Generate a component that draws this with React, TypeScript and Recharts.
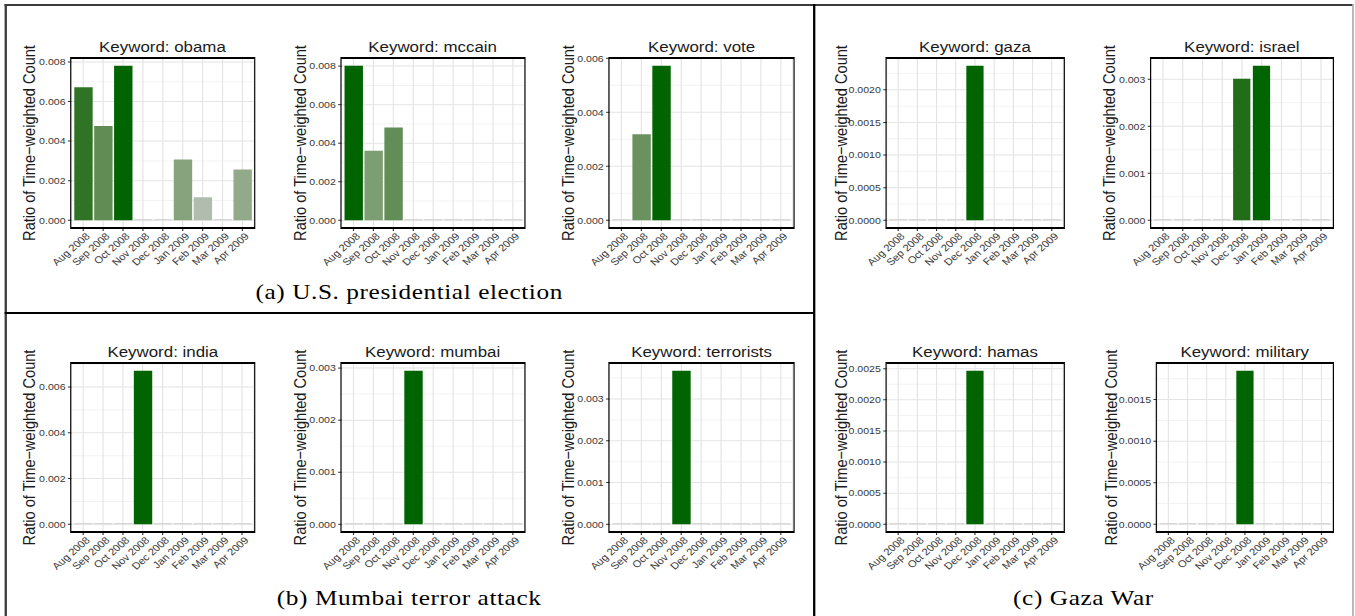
import { BarChart, Bar, XAxis, YAxis, CartesianGrid, Cell } from "recharts";

const MONTHS = ["Aug 2008", "Sep 2008", "Oct 2008", "Nov 2008", "Dec 2008", "Jan 2009", "Feb 2009", "Mar 2009", "Apr 2009"];

// ratio of time-weighted count per month
const OBAMA = [0.00672, 0.00476, 0.00781, 0, 0, 0.00307, 0.001165, 0, 0.00257];
const MCCAIN = [0.00802, 0.00361, 0.00482, 0, 0, 0, 0, 0, 0];
const VOTE = [0, 0.00319, 0.005725, 0, 0, 0, 0, 0, 0];
const INDIA = [0, 0, 0, 0.006715, 0, 0, 0, 0, 0];
const MUMBAI = [0, 0, 0, 0.00295, 0, 0, 0, 0, 0];
const TERRORISTS = [0, 0, 0, 0.003678, 0, 0, 0, 0, 0];
const GAZA = [0, 0, 0, 0, 0.00237, 0, 0, 0, 0];
const ISRAEL = [0, 0, 0, 0, 0.003015, 0.00329, 0, 0, 0];
const HAMAS = [0, 0, 0, 0, 0.002468, 0, 0, 0, 0];
const MILITARY = [0, 0, 0, 0, 0.001848, 0, 0, 0, 0];

const TICKS_8 = [0, 0.002, 0.004, 0.006, 0.008];
const TICKS_6 = [0, 0.002, 0.004, 0.006];
const TICKS_3 = [0, 0.001, 0.002, 0.003];
const TICKS_20 = [0, 0.0005, 0.001, 0.0015, 0.002];
const TICKS_25 = [0, 0.0005, 0.001, 0.0015, 0.002, 0.0025];
const TICKS_15 = [0, 0.0005, 0.001, 0.0015];

const SANS = '"Liberation Sans", Arial, Helvetica, sans-serif';
const SERIF = '"Liberation Serif", "Times New Roman", serif';
const STRETCH = 1.15; // the source figure is stretched horizontally
const Y_TITLE = "Ratio of Time\u2212weighted Count";

// ggplot-like gradient: grey80 -> darkgreen, interpolated in Lab
const LOW = [204, 204, 204];
const HIGH = [0, 100, 0];

function toLab(rgb: number[]) {
  const [r, g, b] = rgb.map((c) => {
    const v = c / 255;
    return v <= 0.04045 ? v / 12.92 : Math.pow((v + 0.055) / 1.055, 2.4);
  });
  const x = (0.4124564 * r + 0.3575761 * g + 0.1804375 * b) / 0.95047;
  const y = 0.2126729 * r + 0.7151522 * g + 0.072175 * b;
  const z = (0.0193339 * r + 0.119192 * g + 0.9503041 * b) / 1.08883;
  const f = (t: number) => (t > 216 / 24389 ? Math.cbrt(t) : ((24389 / 27) * t + 16) / 116);
  const fx = f(x), fy = f(y), fz = f(z);
  return [116 * fy - 16, 500 * (fx - fy), 200 * (fy - fz)];
}

function labToCss([L, a, b]: number[]) {
  const fy = (L + 16) / 116;
  const fx = fy + a / 500;
  const fz = fy - b / 200;
  const inv = (t: number) => (t * t * t > 216 / 24389 ? t * t * t : (116 * t - 16) / (24389 / 27));
  const x = inv(fx) * 0.95047, y = inv(fy), z = inv(fz) * 1.08883;
  const lin = [
    3.2404542 * x - 1.5371385 * y - 0.4985314 * z,
    -0.969266 * x + 1.8760108 * y + 0.041556 * z,
    0.0556434 * x - 0.2040259 * y + 1.0572252 * z,
  ];
  const out = lin.map((c) => {
    const v = c <= 0.0031308 ? 12.92 * c : 1.055 * Math.pow(c, 1 / 2.4) - 0.055;
    return Math.round(Math.max(0, Math.min(1, v)) * 255);
  });
  return `rgb(${out[0]},${out[1]},${out[2]})`;
}

const LOW_LAB = toLab(LOW);
const HIGH_LAB = toLab(HIGH);
const barColor = (t: number) => labToCss(LOW_LAB.map((l, i) => l + (HIGH_LAB[i] - l) * t));

const MonthTick = (props: any) => {
  const { x, y, payload } = props;
  return (
    <text
      x={x + 1.5}
      y={y}
      dy="0.71em"
      textAnchor="end"
      transform={`rotate(-45 ${x + 1.5} ${y})`}
      fontSize={9.7}
      fill="#383838"
    >
      {payload.value}
    </text>
  );
};

interface PanelProps {
  keyword: string;
  values: number[];
  ticks: number[];
  digits: number;
  left: number;
  right: number;
  top: number;
  bottom: number;
}

function Panel({ keyword, values, ticks, digits, left, right, top, bottom }: PanelProps) {
  const max = Math.max(...values);
  const data = MONTHS.map((m, i) => ({ month: m, value: values[i] }));
  const yw = 50;
  const mt = 40;
  const xh = 60;
  const plotW = right - left;
  const plotH = bottom - top;
  const step = ticks[1] - ticks[0];
  const minor = ticks.map((t) => t + step / 2).filter((v) => v < 1.05 * max);
  const labelGap = digits === 3 ? 36.4 : 40;
  const pad = plotW / 92;

  return (
    <>
      <div style={{ position: "absolute", left: left - yw, top: top - mt }}>
        <BarChart
          width={plotW + yw + 4}
          height={plotH + mt + xh}
          data={data}
          margin={{ top: mt, right: 4, bottom: 0, left: 0 }}
          barCategoryGap="5%"
          style={{ overflow: "visible" }}
        >
          <CartesianGrid horizontalValues={minor} vertical={false} stroke="#f3f3f3" />
          <CartesianGrid stroke="#e4e4e4" />
          <XAxis
            dataKey="month"
            interval={0}
            tick={<MonthTick />}
            tickSize={3}
            tickMargin={1}
            tickLine={{ stroke: "#333" }}
            axisLine={false}
            height={xh}
            padding={{ left: pad, right: pad }}
          />
          <YAxis
            type="number"
            domain={[-0.05 * max, 1.05 * max]}
            ticks={ticks}
            interval={0}
            width={yw}
            tickSize={3}
            tickMargin={2}
            tickLine={{ stroke: "#333" }}
            axisLine={false}
            tick={{ fontSize: 9.2, fill: "#383838" }}
            tickFormatter={(v: number) => v.toFixed(digits)}
            label={{
              value: Y_TITLE,
              angle: -90,
              position: "insideLeft",
              offset: yw - labelGap,
              textAnchor: "middle",
              style: { textAnchor: "middle", fontSize: 14.6, fill: "#1a1a1a" },
            }}
          />
          <Bar dataKey="value" isAnimationActive={false} minPointSize={1}>
            {values.map((v, i) => (
              <Cell key={`cell-${i}`} fill={barColor(v / max)} />
            ))}
          </Bar>
        </BarChart>
      </div>
      <div
        style={{
          position: "absolute",
          left: left - 1,
          top: top - 1,
          width: plotW + 2,
          height: plotH + 2,
          boxSizing: "border-box",
          borderStyle: "solid",
          borderColor: "#000",
          borderWidth: "2px 1.75px",
          pointerEvents: "none",
        }}
      />
      <div
        style={{
          position: "absolute",
          left: left - 40,
          width: plotW + 80,
          top: top - 18.3,
          fontSize: 14.7,
          lineHeight: "15px",
          textAlign: "center",
          color: "#1a1a1a",
          whiteSpace: "nowrap",
        }}
      >
        Keyword: {keyword}
      </div>
    </>
  );
}

const TOP = { top: 58, bottom: 228 };
const BOT = { top: 363, bottom: 532 };

const line = (l: number, t: number, w: number, h: number, c: string) => (
  <div style={{ position: "absolute", left: l, top: t, width: w, height: h, background: c }} />
);

const caption = (text: string, l: number, w: number, top: number) => (
  <div
    style={{
      position: "absolute",
      left: l,
      width: w,
      top,
      fontFamily: SERIF,
      fontSize: 22,
      letterSpacing: 0.5,
      lineHeight: "24px",
      textAlign: "center",
      color: "#000",
      whiteSpace: "nowrap",
    }}
  >
    {text}
  </div>
);

export default function App() {
  return (
    <div
      style={{
        position: "absolute",
        left: 0,
        top: 0,
        width: 1178,
        height: 616,
        overflow: "hidden",
        background: "#fff",
        fontFamily: SANS,
        transform: `scaleX(${STRETCH})`,
        transformOrigin: "0 0",
      }}
    >
      {line(4.3, 4.3, 1172, 1.6, "#3a3a3a")}
      {line(4.3, 4.3, 1.4, 612, "#3a3a3a")}
      {line(1175.6, 4.3, 1.2, 612, "#8a8a8a")}
      {line(707.2, 4.3, 1.4, 612, "#000")}
      {line(4.3, 312.2, 704, 1.6, "#000")}

      <Panel keyword="obama" values={OBAMA} ticks={TICKS_8} digits={3} left={61.7} right={220.9} {...TOP} />
      <Panel keyword="mccain" values={MCCAIN} ticks={TICKS_8} digits={3} left={296.5} right={455.9} {...TOP} />
      <Panel keyword="vote" values={VOTE} ticks={TICKS_6} digits={3} left={530.4} right={689.8} {...TOP} />
      <Panel keyword="gaza" values={GAZA} ticks={TICKS_20} digits={4} left={771} right={924.6} {...TOP} />
      <Panel keyword="israel" values={ISRAEL} ticks={TICKS_3} digits={3} left={1000.9} right={1158.9} {...TOP} />

      <Panel keyword="india" values={INDIA} ticks={TICKS_6} digits={3} left={62.2} right={221} {...BOT} />
      <Panel keyword="mumbai" values={MUMBAI} ticks={TICKS_3} digits={3} left={296.5} right={455.9} {...BOT} />
      <Panel keyword="terrorists" values={TERRORISTS} ticks={TICKS_3} digits={3} left={530.4} right={689.8} {...BOT} />
      <Panel keyword="hamas" values={HAMAS} ticks={TICKS_25} digits={4} left={771} right={924.6} {...BOT} />
      <Panel keyword="military" values={MILITARY} ticks={TICKS_15} digits={4} left={1005.8} right={1158.9} {...BOT} />

      {caption("(a) U.S. presidential election", 4.3, 703, 279.6)}
      {caption("(b) Mumbai terror attack", 4.3, 703, 585.6)}
      {caption("(c) Gaza War", 708.6, 467, 585.6)}
    </div>
  );
}
